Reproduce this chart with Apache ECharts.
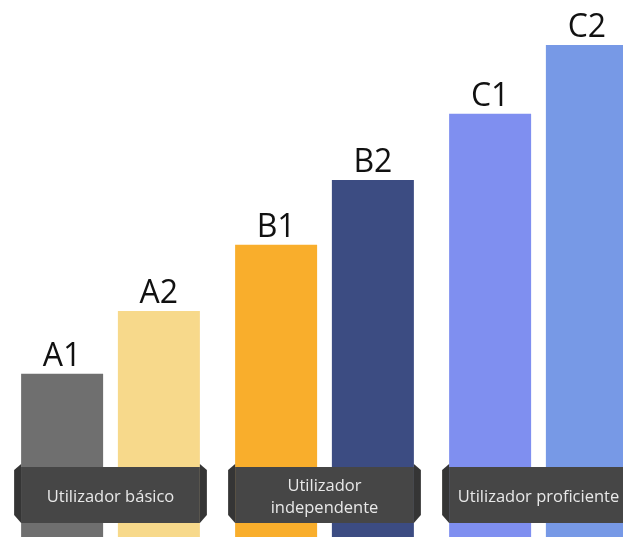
<!DOCTYPE html>
<html>
<head>
<meta charset="utf-8">
<script src="https://cdn.jsdelivr.net/npm/echarts@6/dist/echarts.min.js"></script>
<style>html,body{margin:0;padding:0;background:#fff;overflow:hidden;width:623px;height:537px;}#c{width:650px;height:537px;}</style>
</head>
<body>
<div id="c"></div>
<script>
var groups = ['Utilizador básico', 'Utilizador\nindependente', 'Utilizador proficiente'];
var level1Names = ['A1', 'B1', 'C1'];
var level2Names = ['A2', 'B2', 'C2'];
var level1Values = [30.4, 54.4, 78.8];
var level2Values = [42.1, 66.5, 91.6];
var level1Colors = ['#6f6f6f', '#f9ae2c', '#7f8ff0'];
var level2Colors = ['#f7d98b', '#3c4c82', '#7799e6'];

var BAR_W = 82, GAP_PCT = 18;
var FONT = '"Open Sans", "Noto Sans", sans-serif';

function mk(names, vals, cols) {
  return vals.map(function (v, i) {
    return { name: names[i], value: v, itemStyle: { color: cols[i] } };
  });
}

var chart = echarts.init(document.getElementById('c'), null, { renderer: 'canvas' });
var barLabel = {
  show: true, position: 'top', distance: 1,
  formatter: function (p) { return p.name; },
  fontFamily: FONT, fontSize: 32, color: '#111'
};
chart.setOption({
  animation: false,
  grid: { left: 3.5, width: 642, top: 0, bottom: 0, containLabel: false },
  xAxis: { type: 'category', data: groups, show: false },
  yAxis: { type: 'value', min: 0, max: 100, show: false },
  series: [
    { type: 'bar', name: 'Nível 1', data: mk(level1Names, level1Values, level1Colors),
      barWidth: BAR_W, barGap: GAP_PCT + '%', label: barLabel, z: 1 },
    { type: 'bar', name: 'Nível 2', data: mk(level2Names, level2Values, level2Colors),
      barWidth: BAR_W, barGap: GAP_PCT + '%', label: barLabel, z: 1 },
    { type: 'custom', z: 5,
      data: groups.map(function (g, i) { return [i, 0]; }),
      renderItem: function (params, api) {
        var p = api.coord([api.value(0), 0]);
        var cx = p[0], by = p[1];
        var half = (BAR_W * 2 + BAR_W * GAP_PCT / 100) / 2;
        var x0 = cx - half, x1 = cx + half;
        var top = by - 70, bot = by - 14, tab = 7;
        return {
          type: 'group',
          children: [
            { type: 'polygon', shape: { points: [[x0, top - 3], [x0 - tab, top + 3], [x0 - tab, bot - 8], [x0, bot]] },
              style: { fill: '#353535' } },
            { type: 'polygon', shape: { points: [[x1, top - 3], [x1 + tab, top + 3], [x1 + tab, bot - 8], [x1, bot]] },
              style: { fill: '#353535' } },
            { type: 'rect', shape: { x: x0, y: top, width: x1 - x0, height: bot - top },
              style: { fill: '#464646' } },
            { type: 'text', x: cx, y: (top + bot) / 2 + 2.5,
              style: { text: groups[params.dataIndex], fill: '#e8e8e8', font: '16.5px ' + FONT,
                align: 'center', verticalAlign: 'middle', lineHeight: 22 } }
          ]
        };
      }
    }
  ]
});
</script>
</body>
</html>
